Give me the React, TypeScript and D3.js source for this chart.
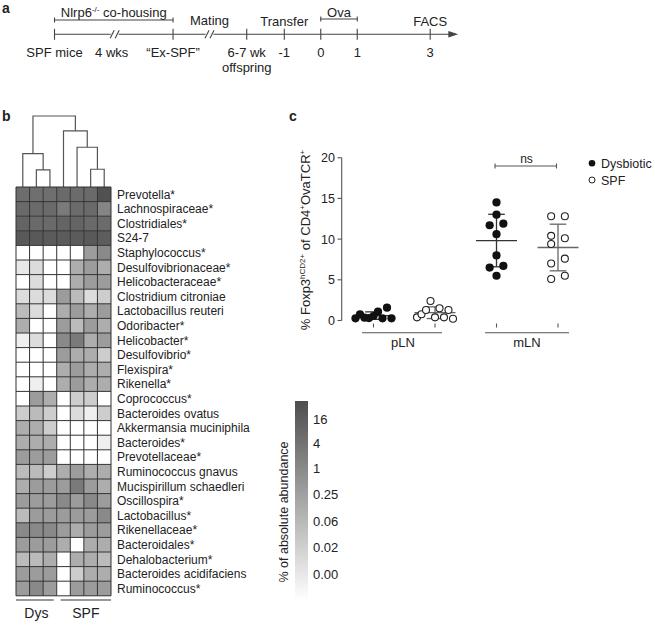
import React, { useEffect } from "react";
import * as d3 from "d3";

// ---------- panel a: timeline ----------
const timelineStops = ["SPF mice", "4 wks", "\u201CEx-SPF\u201D", "break2", "6-7 wk", "-1", "0", "1", "3"];
const timelineSlots = [-7.3, -5.65, -4.05, -3.05, -2.03, -1, 0, 1, 3];

// ---------- panel b: heatmap ----------
const taxa = [
  "Prevotella*", "Lachnospiraceae*", "Clostridiales*", "S24-7", "Staphylococcus*",
  "Desulfovibrionaceae*", "Helicobacteraceae*", "Clostridium citroniae", "Lactobacillus reuteri",
  "Odoribacter*", "Helicobacter*", "Desulfovibrio*", "Flexispira*", "Rikenella*", "Coprococcus*",
  "Bacteroides ovatus", "Akkermansia muciniphila", "Bacteroides*", "Prevotellaceae*",
  "Ruminococcus gnavus", "Mucispirillum schaedleri", "Oscillospira*", "Lactobacillus*",
  "Rikenellaceae*", "Bacteroidales*", "Dehalobacterium*", "Bacteroides acidifaciens", "Ruminococcus*",
];
const samples = ["Dys1", "Dys2", "Dys3", "SPF1", "SPF2", "SPF3", "SPF4"];
const abundance = [
  [7, 6, 6, 9, 8, 9, 28],
  [9, 9, 9, 3, 8, 9, 1.5],
  [12, 9, 9, 12, 12, 9, 8],
  [20, 20, 18, 18, 18, 20, 16],
  [0, 0, 0, 0, 0, 0.4, 1],
  [0.001, 0.01, 0, 0, 0.15, 0.4, 0.15],
  [0, 0.01, 0, 0, 0.15, 0.4, 0.4],
  [0.01, 0.01, 0.01, 0.4, 0.055, 0.01, 0.025],
  [0.055, 0.01, 0, 0.15, 0.4, 0.15, 0.4],
  [0.15, 0, 0, 0.4, 0.055, 0.4, 0.15],
  [0.0007, 0.01, 0, 1, 3, 0.15, 0.4],
  [0, 0, 0, 0.4, 0.15, 0.15, 0.025],
  [0, 0, 0, 0.15, 0.4, 0.15, 0.15],
  [0, 0.0007, 0, 0.15, 0.4, 0.15, 0.15],
  [0, 0.4, 0.15, 0, 0.025, 0.025, 0],
  [0.025, 0.055, 0.025, 0, 0.01, 0.0007, 0.025],
  [0.15, 0.15, 0.025, 0, 0, 0, 0],
  [0.15, 0.15, 0.15, 0, 0, 0, 0.0007],
  [0.4, 0.4, 0.4, 0, 0, 0, 0],
  [0.055, 0.055, 0.025, 0.15, 0.4, 0.15, 0.15],
  [0.15, 0.4, 0.4, 0.4, 3, 0.4, 0.15],
  [0.4, 0.4, 0.4, 1, 0.4, 1, 0.4],
  [0.055, 0.4, 0.4, 0.4, 0.4, 0.4, 1],
  [1, 1, 1, 0.4, 0.15, 0.4, 0.4],
  [0.4, 0.4, 0.4, 0.15, 0, 0.15, 0.15],
  [0.055, 0.055, 0.15, 0, 0.15, 0.15, 0.055],
  [0.4, 0.4, 0.4, 0, 0.025, 0.15, 0.15],
  [0.4, 1, 0.4, 0, 0.4, 0.4, 0.4],
];
// dendrogram merges: [left node, right node, height]; nodes >= 7 are earlier merges
const merges: [number, number, number][] = [
  [1, 2, 0.24],
  [5, 6, 0.25],
  [0, 7, 0.47],
  [4, 8, 0.56],
  [3, 10, 0.79],
  [9, 11, 1],
];
const legendLabels = ["16", "4", "1", "0.25", "0.06", "0.02", "0.00"];
const legendValues = [16, 4, 1, 0.25, 0.06, 0.02, 0.001];

// ---------- panel c: scatter ----------
const groupKeys = ["pLN-Dys", "pLN-SPF", "mLN-Dys", "mLN-SPF"];
const pLNDys = [0.27, 0.76, 0.35, 0.3, 0.55, 1.08, 0.27, 1.57, 0.27];
const pLNSPF = [0.39, 0.76, 1.29, 2.4, 0.39, 1.5, 0.39, 1.29, 0.22];
const mLNDys = [14.5, 13.0, 11.7, 11.9, 10.6, 8.0, 6.5, 6.7, 5.5];
const mLNSPF = [12.8, 12.8, 10.4, 10.1, 9.4, 7.0, 7.6, 5.1, 5.5];
const yTicks = [0, 5, 10, 15, 20];

const FONT = "'Liberation Sans', Arial, sans-serif";
const INK = "#222";

export default function App() {
  useEffect(() => {
    document.body.style.margin = "0";
  }, []);

  // timeline scale
  const tx = d3.scaleLinear().domain([-1, 3]).range([284.3, 430.2]);
  const tpos = (name: string) => tx(timelineSlots[timelineStops.indexOf(name)]);
  const lineY = 34.3;

  // heatmap scales
  const col = d3.scaleBand<number>().domain(d3.range(samples.length)).range([16, 111]);
  const row = d3.scaleBand<string>().domain(taxa).range([187, 595.8]);
  const legendY = d3.scaleLinear()
    .domain([0, 0.001, 0.02, 0.06, 0.25, 1, 4, 16, 32])
    .range([600, 574, 547, 521, 494, 468, 443, 419, 401]);
  const gray = d3.scaleLinear<string>().domain([401, 600]).range(["#4d4d4d", "#ffffff"]);
  const cellColor = (v: number) => gray(legendY(v));

  // dendrogram
  const dh = d3.scaleLinear().domain([0, 1]).range([187, 116]);
  const nodes: { x: number; y: number }[] = samples.map((_, i) => ({ x: col(i)! + col.bandwidth() / 2, y: 187 }));
  const dendroPaths: string[] = [];
  merges.forEach(([a, b, h]) => {
    const A = nodes[a], B = nodes[b], yy = dh(h);
    dendroPaths.push(`M${A.x},${A.y}V${yy}H${B.x}V${B.y}`);
    nodes.push({ x: (A.x + B.x) / 2, y: yy });
  });

  // scatter scales
  const y = d3.scaleLinear().domain([0, 20]).range([320.5, 157.7]);
  const x = d3.scalePoint<string>().domain(groupKeys).range([373.5, 558]);
  const series = [
    { key: "pLN-Dys", vals: pLNDys, filled: true },
    { key: "pLN-SPF", vals: pLNSPF, filled: false },
    { key: "mLN-Dys", vals: mLNDys, filled: true },
    { key: "mLN-SPF", vals: mLNSPF, filled: false },
  ];
  const R = 4.1;
  // GraphPad-like spreading: points close in y are chained into a cluster
  const spread = (vals: number[], cx: number) => {
    const order = vals.map((v, i) => ({ v, i })).sort((p, q) => p.v - q.v);
    const clusters: { v: number; i: number }[][] = [];
    order.forEach((o, k) => {
      if (k > 0 && y(order[k - 1].v) - y(o.v) < 2 * R * 0.95) clusters[clusters.length - 1].push(o);
      else clusters.push([o]);
    });
    const out: { x: number; y: number }[] = new Array(vals.length);
    clusters.forEach((c) => {
      if (c.length === 1) out[c[0].i] = { x: cx, y: y(c[0].v) };
      else if (c.length <= 3) c.forEach((o, k) => (out[o.i] = { x: cx + (k % 2 === 0 ? -6.85 : 6.85), y: y(o.v) }));
      else {
        const byIdx = [...c].sort((p, q) => p.i - q.i);
        const step = 36 / (c.length - 1);
        byIdx.forEach((o, k) => (out[o.i] = { x: cx - 18 + k * step, y: y(o.v) }));
      }
    });
    return out;
  };

  return (
    <svg width={655} height={629} style={{ display: "block", fontFamily: FONT }}>
      <rect width={655} height={629} fill="#fff" />

      {/* ===== panel a ===== */}
      <text x={2} y={13} fontSize={14} fontWeight="bold" fill={INK}>a</text>
      <g stroke="#444" strokeWidth={1.1} fill="none">
        <line x1={tpos("SPF mice")} x2={tx(3.65)} y1={lineY} y2={lineY} />
        <path d={`M${tx(3.65) - 5},${lineY - 2.5}L${tx(3.72)},${lineY}L${tx(3.65) - 5},${lineY + 2.5}Z`} fill="#444" />
        {["SPF mice", "\u201CEx-SPF\u201D", "6-7 wk", "-1", "0", "1", "3"].map((s) => (
          <line key={s} x1={tpos(s)} x2={tpos(s)} y1={lineY - 5.5} y2={lineY + 5.5} />
        ))}
        {["4 wks", "break2"].map((s) => (
          <g key={s}>
            <rect x={tpos(s) - 4} y={lineY - 1} width={8} height={2} fill="#fff" stroke="none" />
            <line x1={tpos(s) - 4.5} x2={tpos(s) - 0.5} y1={lineY + 4} y2={lineY - 4} />
            <line x1={tpos(s) + 0.5} x2={tpos(s) + 4.5} y1={lineY + 4} y2={lineY - 4} />
          </g>
        ))}
        {/* brackets */}
        <line x1={tpos("SPF mice")} x2={tpos("\u201CEx-SPF\u201D")} y1={20} y2={20} />
        <line x1={tpos("SPF mice")} x2={tpos("SPF mice")} y1={17.5} y2={22.5} />
        <line x1={tpos("\u201CEx-SPF\u201D")} x2={tpos("\u201CEx-SPF\u201D")} y1={17.5} y2={22.5} />
        <line x1={tpos("0")} x2={tpos("1")} y1={19} y2={19} />
        <line x1={tpos("0")} x2={tpos("0")} y1={16.5} y2={21.5} />
        <line x1={tpos("1")} x2={tpos("1")} y1={16.5} y2={21.5} />
      </g>
      <g fontSize={13} fill={INK} textAnchor="middle">
        <text x={(tpos("SPF mice") + tpos("\u201CEx-SPF\u201D")) / 2} y={17}>
          Nlrp6<tspan dy={-5} fontSize={8}>-/-</tspan><tspan dy={5}> co-housing</tspan>
        </text>
        <text x={tpos("break2")} y={24.5}>Mating</text>
        <text x={tpos("-1")} y={26}>Transfer</text>
        <text x={(tpos("0") + tpos("1")) / 2} y={16.5}>Ova</text>
        <text x={tpos("3")} y={26}>FACS</text>
        {timelineStops.filter((s) => s !== "break2").map((s) => (
          <text key={s} x={tpos(s) - (s === "4 wks" ? 3 : 0)} y={57}>{s}</text>
        ))}
        <text x={tpos("6-7 wk")} y={71.5}>offspring</text>
      </g>

      {/* ===== panel b ===== */}
      <text x={2} y={121} fontSize={14} fontWeight="bold" fill={INK}>b</text>
      <g stroke="#555" strokeWidth={1.2} fill="none">
        {dendroPaths.map((d, i) => <path key={i} d={d} />)}
      </g>
      <g>
        {taxa.map((t, r) =>
          samples.map((s, c) => (
            <rect key={t + s} x={col(c)} y={row(t)} width={col.bandwidth()} height={row.bandwidth()}
              fill={cellColor(abundance[r][c])} />
          ))
        )}
      </g>
      <g stroke="#333" strokeWidth={1} fill="none">
        {d3.range(samples.length + 1).map((c) => {
          const xx = c === samples.length ? col.range()[1] : col(c)!;
          return <line key={"v" + c} x1={xx} x2={xx} y1={row.range()[0]} y2={row.range()[1]} />;
        })}
        {d3.range(taxa.length + 1).map((r) => {
          const yy = r === taxa.length ? row.range()[1] : row(taxa[r])!;
          return <line key={"h" + r} x1={col.range()[0]} x2={col.range()[1]} y1={yy} y2={yy} />;
        })}
      </g>
      <g fontSize={12} fill={INK}>
        {taxa.map((t) => (
          <text key={t} x={117} y={row(t)! + row.bandwidth() / 2} dy="0.36em">{t}</text>
        ))}
      </g>
      <g stroke="#999" strokeWidth={2}>
        <line x1={col(0)} x2={col(2)! + col.bandwidth() - 3} y1={600} y2={600} />
        <line x1={col(3)! + 4} x2={col.range()[1]} y1={600} y2={600} />
      </g>
      <g fontSize={14} fill={INK} textAnchor="middle">
        <text x={(col(0)! + col(2)! + col.bandwidth()) / 2} y={617.5}>Dys</text>
        <text x={(col(3)! + col.range()[1]) / 2 + 2} y={617.5}>SPF</text>
      </g>

      {/* color legend */}
      <defs>
        <linearGradient id="abund" x1="0" y1="0" x2="0" y2="1">
          <stop offset="0%" stopColor={gray(401)} />
          <stop offset="100%" stopColor={gray(600)} />
        </linearGradient>
      </defs>
      <rect x={295} y={401} width={13} height={199} fill="url(#abund)" />
      <g fontSize={13} fill={INK}>
        {legendLabels.map((l, i) => (
          <text key={l} x={313} y={legendY(legendValues[i])} dy="0.36em">{l}</text>
        ))}
      </g>
      <text transform="translate(288,512) rotate(-90)" fontSize={12.5} fill={INK} textAnchor="middle">
        % of absolute abundance
      </text>

      {/* ===== panel c ===== */}
      <text x={289} y={121} fontSize={14} fontWeight="bold" fill={INK}>c</text>
      <g stroke="#555" strokeWidth={1.1}>
        <line x1={341.7} x2={341.7} y1={y(20)} y2={y(0)} />
        {yTicks.map((t) => (
          <line key={t} x1={337.5} x2={341.7} y1={y(t)} y2={y(t)} />
        ))}
        {groupKeys.map((g) => (
          <line key={g} x1={x(g)} x2={x(g)} y1={y(0) + 3} y2={y(0) + 7} />
        ))}
      </g>
      <g fontSize={12.5} fill={INK} textAnchor="end">
        {yTicks.map((t) => (
          <text key={t} x={335} y={y(t)} dy="0.36em">{t}</text>
        ))}
      </g>
      <text transform="translate(310,240) rotate(-90)" fontSize={13} fill={INK} textAnchor="middle">
        % Foxp3<tspan dy={-5} fontSize={8}>hCD2+</tspan>
        <tspan dy={5}> of CD4</tspan>
        <tspan dy={-5} fontSize={8}>+</tspan>
        <tspan dy={5}>OvaTCR</tspan>
        <tspan dy={-5} fontSize={8}>+</tspan>
      </text>

      {series.map((s) => {
        const cx = x(s.key)!;
        const mean = d3.mean(s.vals)!;
        const sd = d3.deviation(s.vals)!;
        const pts = spread(s.vals, cx);
        const ec = s.filled ? "#333" : "#666";
        return (
          <g key={s.key}>
            <g stroke={ec} strokeWidth={1.3}>
              <line x1={cx - 20.5} x2={cx + 20.5} y1={y(mean)} y2={y(mean)} />
              <line x1={cx} x2={cx} y1={y(mean + sd)} y2={y(Math.max(0, mean - sd))} />
              <line x1={cx - 8.3} x2={cx + 8.3} y1={y(mean + sd)} y2={y(mean + sd)} />
              <line x1={cx - 8.3} x2={cx + 8.3} y1={y(Math.max(0, mean - sd))} y2={y(Math.max(0, mean - sd))} />
            </g>
            {pts.map((p, i) =>
              s.filled ? (
                <circle key={i} cx={p.x} cy={p.y} r={R} fill="#111" />
              ) : (
                <circle key={i} cx={p.x} cy={p.y} r={R - 0.6} fill="#fff" stroke="#222" strokeWidth={1.1} />
              )
            )}
          </g>
        );
      })}

      {/* group labels */}
      <g stroke="#555" strokeWidth={1.1}>
        <line x1={362} x2={442} y1={332.7} y2={332.7} />
        <line x1={485} x2={569} y1={332.7} y2={332.7} />
      </g>
      <g fontSize={13} fill={INK} textAnchor="middle">
        <text x={403} y={347}>pLN</text>
        <text x={527} y={347}>mLN</text>
      </g>

      {/* ns bracket */}
      <g stroke="#555" strokeWidth={1.1}>
        <line x1={x("mLN-Dys")! - 1.5} x2={x("mLN-SPF")! - 1.5} y1={166} y2={166} />
        <line x1={x("mLN-Dys")! - 1.5} x2={x("mLN-Dys")! - 1.5} y1={163.5} y2={168.5} />
        <line x1={x("mLN-SPF")! - 1.5} x2={x("mLN-SPF")! - 1.5} y1={163.5} y2={168.5} />
      </g>
      <text x={526.5} y={162.5} fontSize={12} fill={INK} textAnchor="middle">ns</text>

      {/* legend */}
      <circle cx={592} cy={163.3} r={3.3} fill="#111" />
      <text x={601} y={163.3} dy="0.36em" fontSize={12.5} fill={INK}>Dysbiotic</text>
      <circle cx={592} cy={180} r={3} fill="#fff" stroke="#222" strokeWidth={1} />
      <text x={601} y={180} dy="0.36em" fontSize={12.5} fill={INK}>SPF</text>
    </svg>
  );
}
